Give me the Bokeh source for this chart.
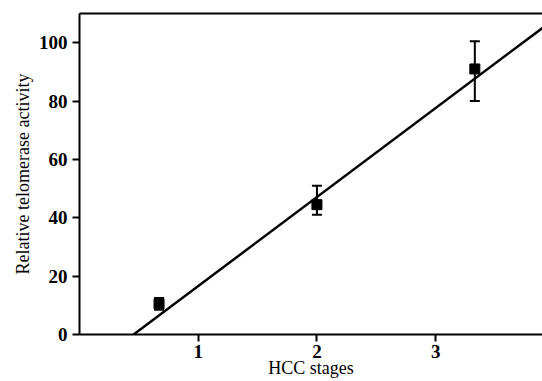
from bokeh.plotting import figure
from bokeh.models import LinearAxis, FixedTicker, ColumnDataSource, Whisker, TeeHead, Range1d
from bokeh.embed import file_html
from bokeh.resources import INLINE

# data
stages = [0.67, 2.0, 3.33]
activity = [10.5, 44.5, 91.0]
err_low = [8.5, 41.0, 80.0]
err_high = [12.5, 51.0, 100.5]
fit_x = [0.456, 4.0]
fit_slope = 30.5
fit_intercept = -13.9
fit_y = [fit_slope * x + fit_intercept for x in fit_x]
x_ticks = [1, 2, 3]
y_ticks = [0, 20, 40, 60, 80, 100]

p = figure(width=542, height=381, output_backend="svg", toolbar_location=None,
           x_range=Range1d(0, 3.9), y_range=Range1d(0, 110),
           min_border_left=79, min_border_right=0, min_border_top=13, min_border_bottom=47)
p.outline_line_color = None
p.grid.visible = False
p.background_fill_color = "white"
p.border_fill_color = "white"

font = "Liberation Serif"
for ax in (p.xaxis[0], p.yaxis[0]):
    ax.axis_line_width = 2
    ax.major_tick_line_width = 2
    ax.major_tick_out = 7
    ax.major_tick_in = 0
    ax.minor_tick_line_color = None
    ax.major_label_text_font = font
    ax.major_label_text_font_style = "bold"
    ax.major_label_text_font_size = "19px"
    ax.major_label_text_color = "black"
    ax.axis_label_text_font = font
    ax.axis_label_text_font_style = "normal"
    ax.axis_label_text_font_size = "18px"
    ax.axis_label_text_color = "black"

p.xaxis.ticker = FixedTicker(ticks=x_ticks)
p.yaxis.ticker = FixedTicker(ticks=y_ticks)
p.xaxis.axis_label = "HCC stages"
p.yaxis.axis_label = "Relative telomerase activity"
p.xaxis.major_label_standoff = 3
p.xaxis.axis_label_standoff = -3
p.yaxis.major_label_standoff = 5
p.yaxis.axis_label_standoff = 3

top = LinearAxis(axis_line_width=2, major_tick_line_color=None, minor_tick_line_color=None,
                 major_label_text_font_size="0px", ticker=FixedTicker(ticks=[]))
p.add_layout(top, "above")

p.line(fit_x, fit_y, line_color="black", line_width=2.5)

src = ColumnDataSource(dict(x=stages, y=activity, lo=err_low, hi=err_high))
w = Whisker(source=src, base="x", lower="lo", upper="hi", line_width=2, line_color="black",
            upper_head=TeeHead(size=10, line_width=2, line_color="black"),
            lower_head=TeeHead(size=10, line_width=2, line_color="black"))
p.add_layout(w)
p.scatter("x", "y", source=src, marker="square", size=10, color="black")

open("out.html", "w").write(file_html(p, INLINE))
